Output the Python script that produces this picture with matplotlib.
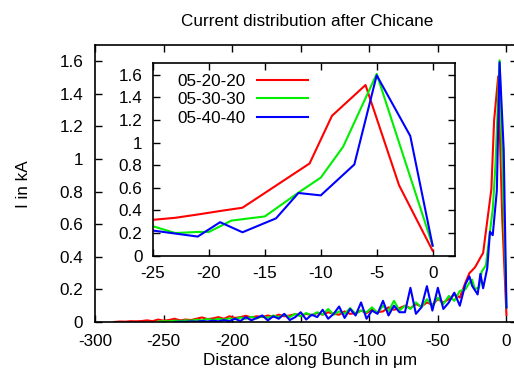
import matplotlib
matplotlib.use("Agg")
import matplotlib.pyplot as plt

plt.rcParams['font.family'] = ['Liberation Sans', 'DejaVu Sans']
plt.rcParams['axes.unicode_minus'] = False

title = "Current distribution after Chicane"
xlabel = "Distance along Bunch in \u03bcm"
ylabel = "I in kA"
labels = ["05-20-20", "05-30-30", "05-40-40"]
colors = ["#ff0000", "#00ee00", "#0000ff"]

x_red = [-286, -282, -278, -274, -270, -266, -262, -258, -254, -250, -246, -242, -238, -234, -230,
         -226, -222, -218, -214, -210, -206, -202, -198, -194, -190, -186, -182, -178, -174, -170,
         -166, -162, -158, -154, -150, -146, -142, -138, -134, -130, -126, -122, -118, -114, -110,
         -106, -102, -98, -94, -90, -86, -82, -78, -74, -70, -66, -62, -58, -54, -50,
         -46, -42, -38, -34, -30, -27,
         -25, -23, -21, -19, -17, -11, -9, -6, -3, 0]
y_red = [0.0, 0.003, 0.002, 0.005, 0.004, 0.006, 0.01, 0.005, 0.015, 0.008, 0.012, 0.02, 0.01, 0.015, 0.012,
         0.02, 0.028, 0.018, 0.022, 0.03, 0.02, 0.035, 0.025, 0.03, 0.038, 0.028, 0.035, 0.03, 0.04, 0.032,
         0.045, 0.035, 0.04, 0.048, 0.038, 0.05, 0.042, 0.055, 0.045, 0.06, 0.05, 0.045, 0.065, 0.05, 0.055,
         0.07, 0.055, 0.075, 0.06, 0.065, 0.09, 0.075, 0.085, 0.1, 0.085, 0.11, 0.095, 0.12, 0.105, 0.14,
         0.12, 0.14, 0.17, 0.15, 0.24, 0.30,
         0.317, 0.335, 0.364, 0.395, 0.424, 0.815, 1.236, 1.508, 0.622, 0.044]

x_green = [-254, -250, -246, -242, -238, -234, -230, -226, -222, -218, -214, -210, -206, -202, -198,
           -194, -190, -186, -182, -178, -174, -170, -166, -162, -158, -154, -150, -146, -142, -138,
           -134, -130, -126, -122, -118, -114, -110, -106, -102, -98, -94, -90, -86, -82, -78,
           -74, -70, -66, -62, -58, -54, -50, -46, -42, -38, -34, -30, -27,
           -25, -23, -21, -20, -18, -15, -12, -10, -8, -5, 0]
y_green = [0.003, 0.005, 0.004, 0.008, 0.006, 0.01, 0.008, 0.014, 0.01, 0.018, 0.012, 0.02, 0.015, 0.022, 0.018,
           0.028, 0.02, 0.032, 0.022, 0.035, 0.025, 0.04, 0.03, 0.045, 0.03, 0.05, 0.035, 0.055, 0.04, 0.06,
           0.045, 0.08, 0.045, 0.065, 0.05, 0.085, 0.05, 0.07, 0.06, 0.09, 0.055, 0.1, 0.065, 0.13, 0.07,
           0.1, 0.08, 0.12, 0.09, 0.14, 0.1, 0.15, 0.11, 0.16, 0.13, 0.19, 0.2, 0.24,
           0.26, 0.20, 0.21, 0.21, 0.31, 0.347, 0.557, 0.69, 0.963, 1.606, 0.089]

x_blue = [-242, -238, -234, -230, -226, -222, -218, -214, -210, -206, -202, -198, -194, -190, -186,
          -182, -178, -174, -170, -166, -162, -158, -154, -150, -146, -142, -138, -134, -130, -126,
          -122, -118, -114, -110, -106, -102, -98, -94, -90, -86, -82, -78, -74, -70, -66,
          -62, -58, -54, -50, -46, -42, -38, -34, -30, -27,
          -25, -21, -19, -17, -14, -12, -10, -7, -5, -2, 0]
y_blue = [0.0, 0.002, 0.001, 0.004, 0.002, 0.006, 0.003, 0.008, 0.004, 0.012, 0.005, 0.02, 0.006, 0.03, 0.01,
          0.025, 0.04, 0.01, 0.035, 0.02, 0.05, 0.012, 0.03, 0.06, 0.015, 0.045, 0.03, 0.075, 0.02, 0.05,
          0.095, 0.025, 0.08, 0.04, 0.12, 0.02, 0.07, 0.05, 0.13, 0.04, 0.1, 0.06, 0.06, 0.21, 0.05,
          0.09, 0.22, 0.07, 0.21, 0.08, 0.12, 0.18, 0.1, 0.23, 0.28,
          0.222, 0.169, 0.296, 0.207, 0.33, 0.554, 0.533, 0.806, 1.594, 1.058, 0.089]

series = [(x_red, y_red), (x_green, y_green), (x_blue, y_blue)]

W, H = 514, 374
FS = 12.3
fig = plt.figure(figsize=(W / 100, H / 100), dpi=100)

# main axes
ax = fig.add_axes([95 / W, 1 - 322 / H, (517 - 95) / W, (322 - 45) / H])
for (xs, ys), c in zip(series, colors):
    ax.plot(xs, ys, color=c, lw=1.5)
ax.set_xlim(-300, 7.7)
ax.set_ylim(0, 1.7)
ax.set_xticks([-300, -250, -200, -150, -100, -50, 0])
ax.set_yticks([0, 0.2, 0.4, 0.6, 0.8, 1, 1.2, 1.4, 1.6])
ax.set_yticklabels(["0", "0.2", "0.4", "0.6", "0.8", "1", "1.2", "1.4", "1.6"])
ax.tick_params(direction='in', top=True, right=True, length=5, width=1, labelsize=FS, pad=8.5)
for s in ax.spines.values():
    s.set_linewidth(1.2)
fig.text(24 / W, 1 - 184 / H, ylabel, rotation=90, ha='center', va='center', fontsize=FS)
fig.text(310 / W, 1 - 365 / H, xlabel, ha='center', va='baseline', fontsize=FS)
fig.text(307.5 / W, 1 - 25.7 / H, title, ha='center', va='baseline', fontsize=FS)

# inset axes
ins = fig.add_axes([153 / W, 1 - 255.7 / H, (455 - 153) / W, (255.7 - 63.3) / H])
for (xs, ys), c, lab in zip(series, colors, labels):
    ins.plot(xs, ys, color=c, lw=1.5, label=lab)
ins.set_xlim(-25, 2)
ins.set_ylim(0, 1.7)
ins.set_xticks([-25, -20, -15, -10, -5, 0])
ins.set_yticks([0, 0.2, 0.4, 0.6, 0.8, 1, 1.2, 1.4, 1.6])
ins.set_yticklabels(["0", "0.2", "0.4", "0.6", "0.8", "1", "1.2", "1.4", "1.6"])
ins.tick_params(direction='in', top=True, right=True, length=5, width=1, labelsize=FS, pad=7.5)
for s in ins.spines.values():
    s.set_linewidth(1.2)
ins.legend(loc='upper left', bbox_to_anchor=(0.08, 0.945), frameon=False, markerfirst=False,
           handlelength=2.95, handletextpad=0.7, labelspacing=0.2, borderpad=0, borderaxespad=0,
           fontsize=FS)

fig.savefig("out.png", dpi=100)
